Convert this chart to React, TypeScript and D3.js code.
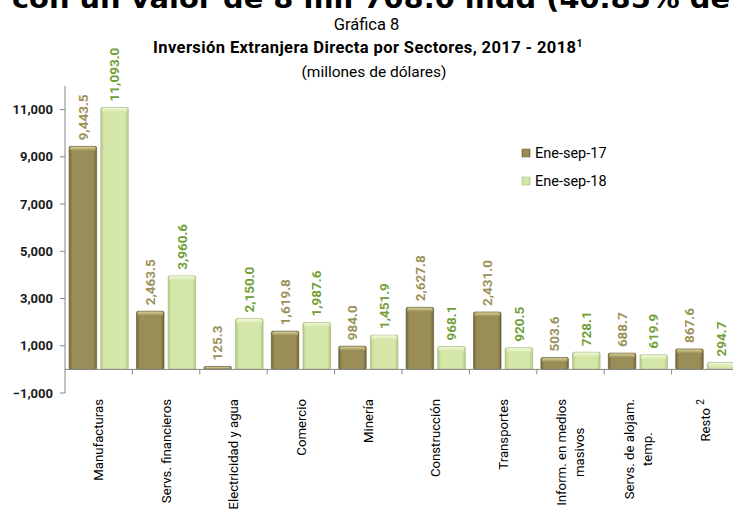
import React, { useEffect, useRef } from "react";
import * as d3 from "d3";

// IED por sector, millones de dólares
const categories = [
  "Manufacturas",
  "Servs. financieros",
  "Electricidad y agua",
  "Comercio",
  "Minería",
  "Construcción",
  "Transportes",
  "Inform. en medios\nmasivos",
  "Servs. de alojam.\ntemp.",
  "Resto",
];
const values17 = [9443.5, 2463.5, 125.3, 1619.8, 984.0, 2627.8, 2431.0, 503.6, 688.7, 867.6];
const values18 = [11093.0, 3960.6, 2150.0, 1987.6, 1451.9, 968.1, 920.5, 728.1, 619.9, 294.7];
const seriesNames = ["Ene-sep-17", "Ene-sep-18"];
const yTicks = [-1000, 1000, 3000, 5000, 7000, 9000, 11000];

const W = 733;
const H = 512;
const FONT = "Roboto, 'Liberation Sans', Arial, sans-serif";

const palette = [
  { edge: "#6f6538", mid: "#9a8e58", cap: "#d8cf95", stroke: "#5e5630", label: "#9b9157" },
  { edge: "#b3c889", mid: "#d4e7a9", cap: "#f2f8dc", stroke: "#a3b67a", label: "#71a036" },
];

export default function App() {
  const svgRef = useRef<SVGSVGElement | null>(null);

  useEffect(() => {
    if (!svgRef.current) return;
    const svg = d3.select(svgRef.current);
    svg.selectAll("*").remove();

    const x0 = d3.scaleBand<string>().domain(categories).range([65, 739]);
    const x1 = d3
      .scaleBand<string>()
      .domain(seriesNames)
      .range([0, x0.bandwidth()])
      .paddingInner(0.13)
      .paddingOuter(0.13);
    const y = d3.scaleLinear().domain([-1000, 12000]).range([393, 86]);
    const fmt = d3.format(",.1f");

    // gradients for the bevelled bars
    const defs = svg.append("defs");
    palette.forEach((p, i) => {
      const g = defs
        .append("linearGradient")
        .attr("id", `bar${i}`)
        .attr("x1", 0)
        .attr("x2", 1)
        .attr("y1", 0)
        .attr("y2", 0);
      g.append("stop").attr("offset", "0%").attr("stop-color", p.edge);
      g.append("stop").attr("offset", "12%").attr("stop-color", p.mid);
      g.append("stop").attr("offset", "88%").attr("stop-color", p.mid);
      g.append("stop").attr("offset", "100%").attr("stop-color", p.edge);
      const c = defs
        .append("linearGradient")
        .attr("id", `cap${i}`)
        .attr("x1", 0)
        .attr("x2", 0)
        .attr("y1", 0)
        .attr("y2", 1);
      c.append("stop").attr("offset", "0%").attr("stop-color", p.cap);
      c.append("stop").attr("offset", "100%").attr("stop-color", p.mid);
    });

    // cut-off heading from the page above
    svg
      .append("text")
      .attr("x", 12)
      .attr("y", 8)
      .attr("font-family", "'DejaVu Sans', sans-serif")
      .attr("font-weight", "bold")
      .attr("font-size", 26)
      .attr("textLength", 718)
      .attr("lengthAdjust", "spacingAndGlyphs")
      .attr("fill", "#000")
      .text("con un valor de 8 mil 708.0 mdd (40.85% de");

    // titles
    svg
      .append("text")
      .attr("x", 366.5)
      .attr("y", 30)
      .attr("text-anchor", "middle")
      .attr("font-family", FONT)
      .attr("font-size", 16.5)
      .text("Gráfica 8");
    const t = svg
      .append("text")
      .attr("x", 368)
      .attr("y", 53)
      .attr("text-anchor", "middle")
      .attr("font-family", FONT)
      .attr("font-weight", "bold")
      .attr("font-size", 16.5)
      .attr("letter-spacing", 0.4)
      .text("Inversión Extranjera Directa por Sectores, 2017 - 2018");
    t.append("tspan").attr("dy", -6).attr("font-size", 10.5).text("1");
    svg
      .append("text")
      .attr("x", 374)
      .attr("y", 77)
      .attr("text-anchor", "middle")
      .attr("font-family", FONT)
      .attr("font-size", 15.5)
      .text("(millones de dólares)");

    const axisColor = "#868686";

    // y axis
    svg
      .append("line")
      .attr("x1", 65)
      .attr("x2", 65)
      .attr("y1", y(12000))
      .attr("y2", y(-1000))
      .attr("stroke", axisColor);
    const yt = svg.append("g").selectAll("g").data(yTicks).join("g");
    yt.append("line")
      .attr("x1", 60)
      .attr("x2", 65)
      .attr("y1", (d) => y(d))
      .attr("y2", (d) => y(d))
      .attr("stroke", axisColor);
    yt.append("text")
      .attr("x", 53)
      .attr("y", (d) => y(d))
      .attr("dy", "0.35em")
      .attr("text-anchor", "end")
      .attr("font-family", FONT)
      .attr("font-weight", "bold")
      .attr("font-size", 13)
      .attr("fill", "#1a1a1a")
      .text((d) => d3.format(",")(d));

    // bars
    const rows = categories.map((c, i) => ({ c, vals: [values17[i], values18[i]] }));
    const groups = svg
      .append("g")
      .selectAll("g")
      .data(rows)
      .join("g")
      .attr("transform", (d) => `translate(${x0(d.c)},0)`);

    seriesNames.forEach((s, si) => {
      const bx = x1(s)!;
      const bw = x1.bandwidth();
      groups
        .append("rect")
        .attr("x", bx)
        .attr("y", (d) => y(Math.max(0, d.vals[si])))
        .attr("width", bw)
        .attr("height", (d) => Math.abs(y(d.vals[si]) - y(0)))
        .attr("rx", 1.5)
        .attr("fill", `url(#bar${si})`)
        .attr("stroke", palette[si].stroke)
        .attr("stroke-width", 0.6);
      groups
        .append("rect")
        .attr("x", bx + 1)
        .attr("y", (d) => y(Math.max(0, d.vals[si])) + 0.5)
        .attr("width", bw - 2)
        .attr("height", (d) => Math.min(4, Math.abs(y(d.vals[si]) - y(0)) - 1))
        .attr("rx", 1.5)
        .attr("fill", `url(#cap${si})`);
      groups
        .append("text")
        .attr(
          "transform",
          (d) => `translate(${bx + bw / 2},${y(Math.max(0, d.vals[si])) - 6}) rotate(-90)`
        )
        .attr("dy", "0.35em")
        .attr("font-family", FONT)
        .attr("font-weight", "bold")
        .attr("font-size", 13.5)
        .attr("fill", palette[si].label)
        .text((d) => fmt(d.vals[si]));
    });

    // zero line + category ticks
    svg
      .append("line")
      .attr("x1", 65)
      .attr("x2", 739)
      .attr("y1", y(0))
      .attr("y2", y(0))
      .attr("stroke", axisColor);
    svg
      .append("g")
      .selectAll("line")
      .data(categories.slice(1))
      .join("line")
      .attr("x1", (d) => x0(d)!)
      .attr("x2", (d) => x0(d)!)
      .attr("y1", y(0))
      .attr("y2", y(0) + 5)
      .attr("stroke", axisColor);

    // category labels, rotated, top aligned at y=399
    categories.forEach((c) => {
      const cx = x0(c)! + x0.bandwidth() / 2;
      const g = svg.append("g").attr("transform", `translate(${cx},399) rotate(-90)`);
      const lines = c.split("\n");
      const texts = lines.map((l, i) => {
        const tx = g
          .append("text")
          .attr("y", (i - (lines.length - 1) / 2) * 18)
          .attr("dy", "0.35em")
          .attr("text-anchor", "middle")
          .attr("font-family", FONT)
          .attr("font-size", 13.2)
          .attr("fill", "#000")
          .text(l);
        if (c === "Resto") {
          tx.append("tspan").text(" ");
          tx.append("tspan").attr("dy", -6).attr("font-size", 10).text("2");
        }
        return tx;
      });
      const L = d3.max(texts, (tx) => (tx.node() as SVGTextElement).getComputedTextLength()) || 0;
      texts.forEach((tx) => tx.attr("x", -L / 2));
    });

    // legend
    const lg = svg
      .append("g")
      .selectAll("g")
      .data(seriesNames)
      .join("g")
      .attr("transform", (d, i) => `translate(522,${149 + i * 28})`);
    lg.append("rect")
      .attr("width", 8)
      .attr("height", 8)
      .attr("fill", (d, i) => `url(#bar${i})`)
      .attr("stroke", (d, i) => palette[i].stroke)
      .attr("stroke-width", 0.5);
    lg.append("text")
      .attr("x", 13)
      .attr("y", 4)
      .attr("dy", "0.35em")
      .attr("font-family", FONT)
      .attr("font-size", 14.5)
      .attr("fill", "#000")
      .text((d) => d);
  }, []);

  return (
    <svg
      ref={svgRef}
      width={W}
      height={H}
      style={{ position: "absolute", left: 0, top: 0, background: "#fff" }}
    />
  );
}
